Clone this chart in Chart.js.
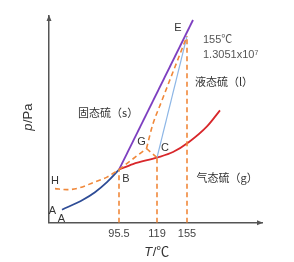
<!DOCTYPE html>
<html><head><meta charset="utf-8">
<script src="https://cdn.jsdelivr.net/npm/chart.js@4/dist/chart.umd.min.js"></script>
<style>html,body{margin:0;padding:0;background:#fff}</style>
</head><body>
<canvas id="c" width="294" height="262"></canvas>
<script>
// ---- data (schematic units) ----
const xTickValues = [70, 108, 138];
const xTickLabels = ['95.5', '119', '155'];
const curveAB = [[13,13],[34,23],[46,30.5],[58,40.5],[70,53]];          // solid-gas (blue)
const curveBTop = [[70,53],[144,202]];                                  // solid-liquid (purple)
const curveBC = [[70,53],[84,58.5],[108,65],[124,70.5],[140,80.5],[158,96],[171,112]]; // liquid-gas (red)
const curveCE = [[108,65],[138,186]];                                   // light blue
const curveHB = [[6,34],[18,33],[31,35],[44,40],[58,45.5],[70,53]];     // dashed
const curveBG = [[70,53],[97.5,74]];
const curveGC = [[97.5,74],[108,65]];
const curveGE = [[97.5,74],[103.5,97],[113,122],[138,186]];
const dropB = [[70,0],[70,53]];
const dropC = [[108,0],[108,65]];
const dropE = [[138,0],[138,186]];
const pointNames = ['E','G','C','B','H','A','A'];
const pointNamePos = [[129,194],[92.5,81],[116,75],[77,44],[6,42],[3.5,12],[12.5,4]];
const phaseTexts = ['固态硫（s）','液态硫（l）','气态硫（g）','155℃','1.3051x10⁷'];
const phaseTextPos = [[29,110],[146,140],[147.5,45],[154,182],[154,167]];
const xTitle = ['T','/℃'];
const yTitle = ['p','/Pa'];

const LATIN = '"Liberation Sans", "Noto Sans CJK SC", sans-serif';
const CJK = '"Noto Sans CJK SC", "Liberation Sans", sans-serif';
const ORANGE = '#F0883A', BLUE = '#2E4C96', PURPLE = '#7D3FC0', RED = '#D8272B', LBLUE = '#8DB6E6';

const pts = a => a.map(p => ({x:p[0], y:p[1]}));
function ds(arr, color, dashed, w, smooth) {
  return {data: pts(arr), showLine: true, borderColor: color, backgroundColor: color,
    borderWidth: w || 1.6, borderDash: dashed ? [5,3.5] : [], pointRadius: 0,
    cubicInterpolationMode: smooth ? 'monotone' : 'default', tension: smooth ? 0.4 : 0, fill: false};
}

const deco = {
  id: 'deco',
  afterDraw(chart) {
    const c = chart.ctx, xs = chart.scales.x, ys = chart.scales.y, a = chart.chartArea;
    c.save();
    // arrowheads
    c.fillStyle = '#555';
    c.beginPath(); c.moveTo(a.left, a.top - 1); c.lineTo(a.left - 2.5, a.top + 5); c.lineTo(a.left + 2.5, a.top + 5); c.closePath(); c.fill();
    c.beginPath(); c.moveTo(a.right + 1, a.bottom); c.lineTo(a.right - 5, a.bottom - 2.5); c.lineTo(a.right - 5, a.bottom + 2.5); c.closePath(); c.fill();
    // point names
    c.fillStyle = '#333'; c.textAlign = 'center'; c.textBaseline = 'middle';
    c.font = '11px ' + LATIN;
    pointNames.forEach((t, i) => c.fillText(t, xs.getPixelForValue(pointNamePos[i][0]), ys.getPixelForValue(pointNamePos[i][1])));
    // phase texts
    c.textAlign = 'left';
    phaseTexts.forEach((t, i) => {
      c.font = (i < 3 ? '11px ' + CJK : '11px ' + LATIN);
      c.fillStyle = i < 3 ? '#333' : '#555';
      c.fillText(t, xs.getPixelForValue(phaseTextPos[i][0]), ys.getPixelForValue(phaseTextPos[i][1]));
    });
    // axis titles with italic symbol
    function mixed(parts, cx, cy) {
      const f0 = 'italic 13px ' + LATIN, f1 = '13px ' + LATIN;
      c.font = f0; const w0 = c.measureText(parts[0]).width;
      c.font = f1; const w1 = c.measureText(parts[1]).width;
      let x = cx - (w0 + w1) / 2;
      c.textAlign = 'left'; c.textBaseline = 'middle'; c.fillStyle = '#333';
      c.font = f0; c.fillText(parts[0], x, cy);
      c.font = f1; c.fillText(parts[1], x + w0 + 0.5, cy);
    }
    mixed(xTitle, (a.left + a.right) / 2 + 1, a.bottom + 30);
    c.save(); c.translate(a.left - 21, (a.top + a.bottom) / 2 - 2); c.rotate(-Math.PI / 2);
    mixed(yTitle, 0, 0); c.restore();
    c.restore();
  }
};

new Chart(document.getElementById('c'), {
  type: 'scatter',
  data: {datasets: [
    ds(dropB, ORANGE, true), ds(dropC, ORANGE, true), ds(dropE, ORANGE, true),
    ds(curveHB, ORANGE, true, 1.6, true), ds(curveBG, ORANGE, true), ds(curveGC, ORANGE, true),
    ds(curveGE, ORANGE, true, 1.6, true),
    ds(curveCE, LBLUE, false, 1.2),
    ds(curveAB, BLUE, false, 1.8, true),
    ds(curveBC, RED, false, 1.8, true),
    ds(curveBTop, PURPLE, false, 1.8)
  ]},
  options: {
    responsive: false, animation: false, devicePixelRatio: 1,
    layout: {padding: {left: 49, right: 32, top: 16, bottom: 16}},
    plugins: {legend: {display: false}, tooltip: {enabled: false}},
    scales: {
      x: {type: 'linear', min: 0, max: 213,
        grid: {display: false, drawTicks: false},
        border: {display: true, color: '#555', width: 1.5},
        afterBuildTicks: s => { s.ticks = xTickValues.map(v => ({value: v})); },
        ticks: {color: '#444', font: {size: 11, family: LATIN}, padding: 5, autoSkip: false, maxRotation: 0,
          callback: v => { const i = xTickValues.indexOf(v); return i >= 0 ? xTickLabels[i] : ''; }}},
      y: {type: 'linear', min: 0, max: 206,
        grid: {display: false, drawTicks: false},
        border: {display: true, color: '#555', width: 1.5},
        ticks: {display: false}}
    }
  },
  plugins: [deco]
});
</script>
</body></html>
